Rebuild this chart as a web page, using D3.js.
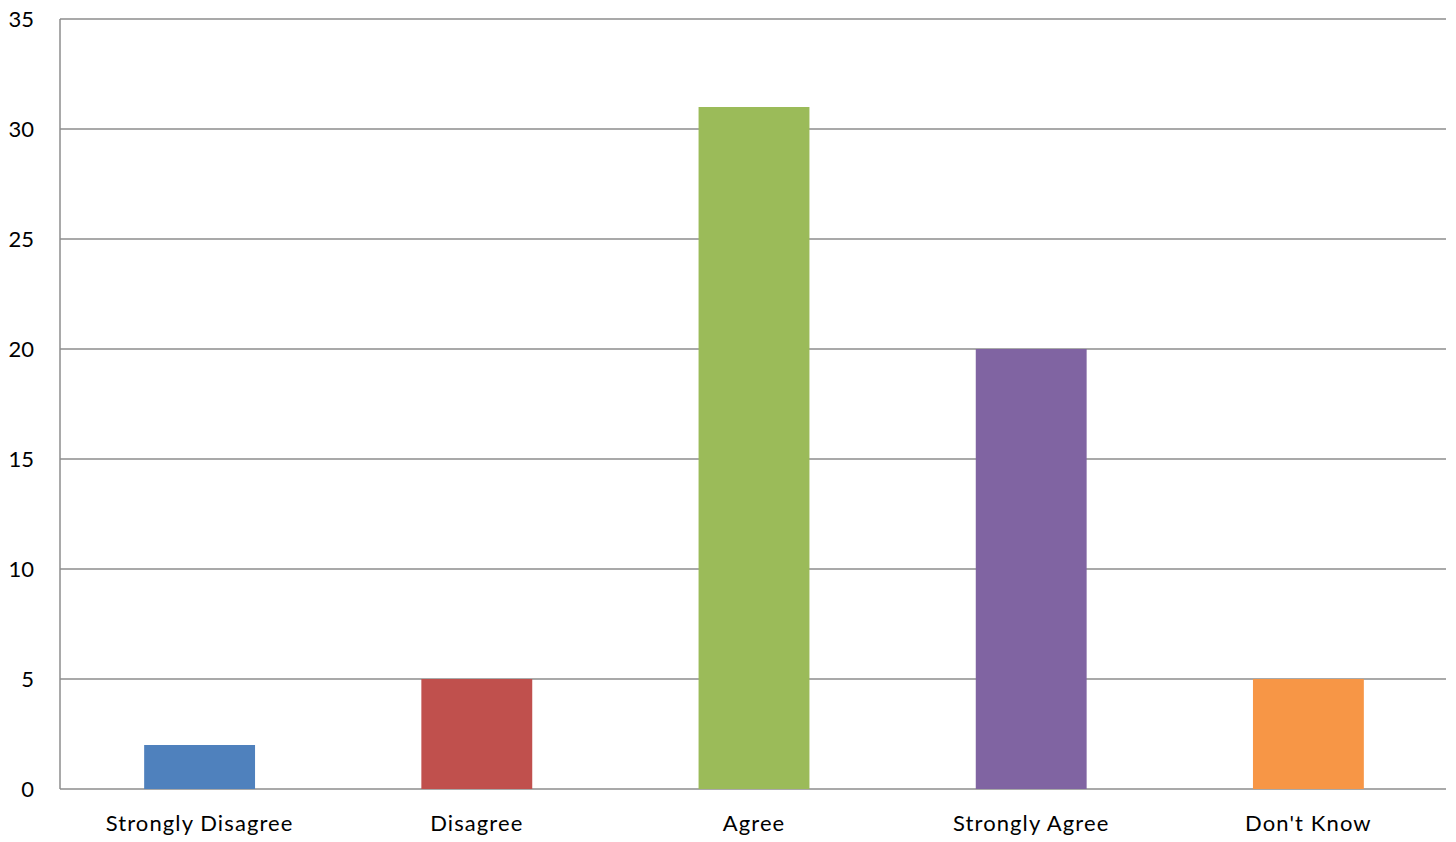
<!DOCTYPE html>
<html>
<head>
<meta charset="utf-8">
<script src="https://cdn.jsdelivr.net/npm/d3@7"></script>
<style>
  html, body { margin: 0; padding: 0; background: #fff; }
  svg { display: block; }
  text { font-family: Lato, "Open Sans", sans-serif; fill: #000; }
</style>
</head>
<body>
<svg id="chart" width="1456" height="842"></svg>
<script>
const categories = ["Strongly Disagree", "Disagree", "Agree", "Strongly Agree", "Don't Know"];
const values = [2, 5, 31, 20, 5];
const colors = ["#4F81BD", "#C0504D", "#9BBB59", "#8064A2", "#F79646"];
const yTicks = [0, 5, 10, 15, 20, 25, 30, 35];

const svg = d3.select("#chart");
const margin = { left: 60, right: 10, top: 19, bottom: 53 };
const W = 1456, H = 842;

const x = d3.scaleBand()
  .domain(categories)
  .range([margin.left, W - margin.right])
  .paddingInner(0.6)
  .paddingOuter(0.3);

const y = d3.scaleLinear()
  .domain([0, 35])
  .range([H - margin.bottom, margin.top]);

// gridlines
svg.append("g")
  .selectAll("line")
  .data(yTicks)
  .join("line")
  .attr("x1", margin.left)
  .attr("x2", W - margin.right)
  .attr("y1", d => y(d))
  .attr("y2", d => y(d))
  .attr("stroke", "#8c8c8c")
  .attr("stroke-width", 1.5);

// y-axis line
svg.append("line")
  .attr("x1", margin.left).attr("x2", margin.left)
  .attr("y1", y(35)).attr("y2", y(0))
  .attr("stroke", "#8c8c8c").attr("stroke-width", 1.5);

// bars
svg.append("g")
  .selectAll("rect")
  .data(values)
  .join("rect")
  .attr("x", (d, i) => x(categories[i]) + 1)
  .attr("width", x.bandwidth())
  .attr("y", d => y(d))
  .attr("height", d => y(0) - y(d))
  .attr("fill", (d, i) => colors[i]);

// y tick labels
const yAxis = d3.axisLeft(y).tickValues(yTicks).tickSize(0).tickPadding(0);
const ya = svg.append("g")
  .attr("transform", `translate(${34},0)`)
  .call(yAxis);
ya.select(".domain").remove();
ya.selectAll("text")
  .attr("font-size", 22)
  .attr("font-family", "Lato, 'Open Sans', sans-serif")
  .attr("fill", "#000");

// x labels
const xAxis = d3.axisBottom(x).tickSize(0).tickPadding(0);
const xa = svg.append("g")
  .attr("transform", `translate(1,${y(0)})`)
  .call(xAxis);
xa.select(".domain").remove();
xa.selectAll("text")
  .attr("font-size", 22)
  .attr("letter-spacing", "1.1px")
  .attr("font-family", "Lato, 'Open Sans', sans-serif")
  .attr("fill", "#000")
  .attr("dy", null)
  .attr("y", 42);
</script>
</body>
</html>
